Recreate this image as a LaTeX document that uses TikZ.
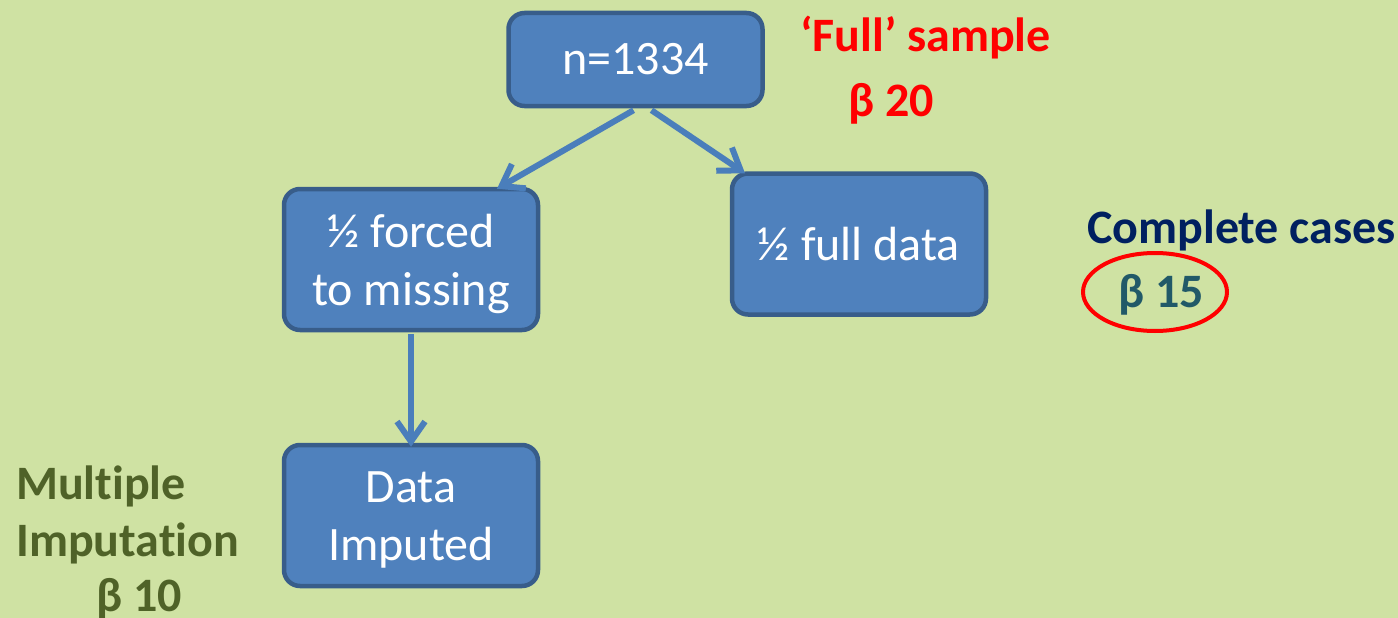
\documentclass[tikz,border=0pt]{standalone}
\usepackage{fontspec}
\setmainfont{Carlito}[Ligatures=NoCommon]
\usetikzlibrary{arrows.meta,calc}
\definecolor{bg}{RGB}{207,226,163}
\definecolor{boxfill}{RGB}{79,129,189}
\definecolor{boxline}{RGB}{56,93,138}
\definecolor{arrowc}{RGB}{74,126,187}
\definecolor{navy}{RGB}{0,32,96}
\definecolor{teal}{RGB}{33,89,104}
\definecolor{olive}{RGB}{79,98,40}
\newcommand{\lowr}[1]{\raisebox{-4pt}[\height][\depth]{#1}}
\tikzset{
  flowbox/.style={draw=boxline, line width=4.5pt, fill=boxfill, rounded corners=16pt,
    minimum width=254pt, text=white, align=center,
    font=\fontsize{48}{58}\selectfont, inner sep=0pt},
  flowarrow/.style={draw=arrowc, line width=6pt,
    -{Straight Barb[length=20pt,width=28pt,line width=6pt]}},
  lbl/.style={font=\fontsize{48}{56}\selectfont\bfseries, inner sep=0pt}
}
\begin{document}
\begin{tikzpicture}[x=1pt,y=-1pt]
\fill[bg] (0,0) rectangle (1398,618);
\useasboundingbox (0,0) rectangle (1398,618);

\node[flowbox, minimum height=93pt] (n) at (635.5,59.5) {n=1334};
\node[flowbox, minimum height=141pt] (forced) at (411,259.5) {\lowr{½ forced}\\\lowr{to missing}};
\node[flowbox, minimum height=141pt] (full) at (859,244) {½ full data};
\node[flowbox, minimum height=141pt] (data) at (411,515.5) {\lowr{Data}\\\lowr{Imputed}};

\draw[flowarrow] ([xshift=-2pt,yshift=-2pt]n.south) -- ([xshift=86pt,yshift=-2pt]forced.north);
\draw[flowarrow] ([xshift=16pt,yshift=-2pt]n.south) -- ([xshift=-114pt,yshift=-2pt]full.north);
\draw[flowarrow] ([yshift=-2pt]forced.south) -- ([yshift=-4pt]data.north);

\node[lbl, text=red, anchor=base west] (fs) at (800,52) {‘Full’ sample};
\node[lbl, text=red, anchor=base west] (b20) at (848,117) {β 20};

\node[lbl, text=navy, anchor=base west] (cc) at (1087,243) {Complete cases};
\node[lbl, text=teal, anchor=base west] (b15) at (1118,307) {β 15};
\draw[red, line width=4pt] (1155,292) ellipse [x radius=72pt, y radius=39pt];

\node[lbl, text=olive, anchor=base west] (mi1) at (16,499) {Multiple};
\node[lbl, text=olive, anchor=base west] (mi2) at (16,556) {Imputation};
\node[lbl, text=olive, anchor=base west] (mi3) at (96,611) {β 10};
\end{tikzpicture}
\end{document}
